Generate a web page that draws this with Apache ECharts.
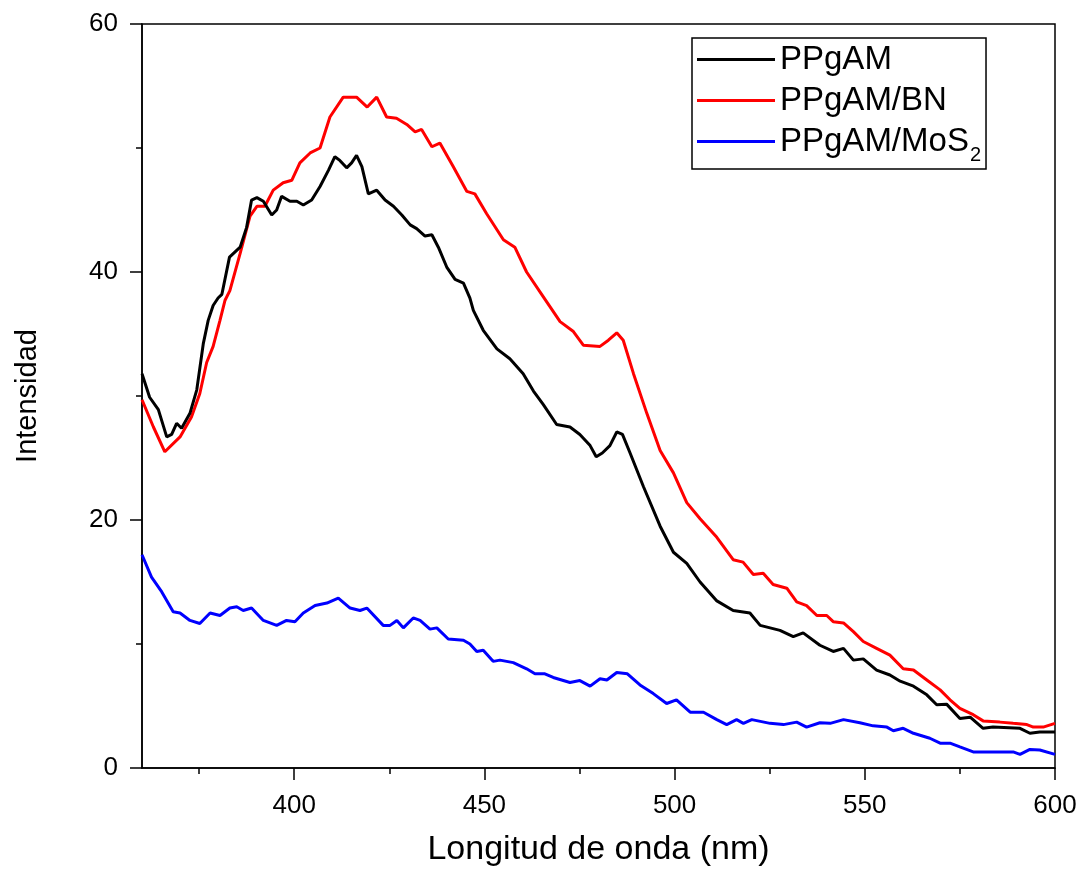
<!DOCTYPE html>
<html>
<head>
<meta charset="utf-8">
<script src="https://cdn.jsdelivr.net/npm/echarts@6/dist/echarts.min.js"></script>
<style>
  html, body { margin: 0; padding: 0; background: #fff; }
  #chart { width: 1085px; height: 873px; }
</style>
</head>
<body>
<div id="chart"></div>
<script>
// wavelength (nm), intensity pairs
const ppgam = [
  [360, 31.8], [362, 29.9], [364.3, 28.9], [366.5, 26.7], [367.8, 26.9], [369.1, 27.8], [370.4, 27.4],
  [372.6, 28.6], [374.4, 30.5], [376.1, 34.2], [377.4, 36.1], [378.7, 37.3], [380, 37.9], [381, 38.2],
  [383, 41.2], [385.8, 42], [387.5, 43.6], [388.8, 45.8], [390.2, 46], [391.9, 45.7], [394.1, 44.6],
  [395.4, 45], [396.7, 46.1], [398.9, 45.7], [400.7, 45.7], [402.4, 45.4], [404.6, 45.8], [406.8, 46.9],
  [409, 48.2], [410.7, 49.3], [412, 49], [413.8, 48.4], [415.1, 48.8], [416.4, 49.4], [417.8, 48.5],
  [419.5, 46.3], [421.7, 46.6], [423.9, 45.8], [426.1, 45.3], [428.3, 44.6], [430.5, 43.8], [432.2, 43.5],
  [434.4, 42.9], [436.2, 43], [437.9, 42], [440.1, 40.4], [442.3, 39.4], [444.5, 39.1], [446.2, 37.9],
  [447.1, 36.9], [449.7, 35.3], [453.3, 33.8], [456.7, 33], [460.2, 31.8], [462.9, 30.4], [465.5, 29.3],
  [469, 27.7], [472.5, 27.5], [475.1, 26.9], [477.8, 26], [479.4, 25.1], [481, 25.4], [483, 26],
  [484.8, 27.1], [486.3, 26.9], [488.3, 25.4], [491.8, 22.7], [496.2, 19.5], [499.7, 17.4], [503.2, 16.5],
  [506.7, 15], [511, 13.5], [515.4, 12.7], [519.8, 12.5], [522.5, 11.5], [527.7, 11.1], [531.2, 10.6],
  [533.8, 10.9], [538.2, 9.9], [541.7, 9.4], [544.4, 9.65], [547, 8.7], [549.6, 8.8], [553.1, 7.9],
  [556.6, 7.5], [559.3, 7.0], [562.8, 6.6], [566.3, 5.9], [568.9, 5.1], [571.5, 5.15], [575, 4.0],
  [577.7, 4.1], [581.1, 3.2], [583.7, 3.3], [590.8, 3.2], [593.4, 2.8], [596, 2.9], [600, 2.9]
];

const ppgamBN = [
  [360, 29.7], [363, 27.5], [366, 25.5], [370, 26.7], [373, 28.3], [375.2, 30.2], [377, 32.7],
  [378.7, 34], [380.5, 36.1], [381.8, 37.7], [383.1, 38.5], [385.8, 41.5], [388.4, 44.5], [390.2, 45.3],
  [392.3, 45.3], [394.5, 46.6], [397.1, 47.2], [399.4, 47.4], [401.5, 48.8], [404.2, 49.6], [406.8, 50],
  [409.4, 52.5], [412.9, 54.1], [416.4, 54.1], [419.2, 53.3], [421.7, 54.1], [424.3, 52.5], [426.9, 52.4],
  [429.6, 51.9], [431.8, 51.3], [433.5, 51.5], [436.2, 50.1], [438.3, 50.4], [441.8, 48.5], [445.4, 46.5],
  [447.5, 46.3], [450.6, 44.7], [455, 42.6], [458, 42], [461.1, 40], [465.5, 38], [469.9, 36],
  [473.4, 35.2], [476, 34.1], [480.4, 34], [482.6, 34.5], [484.8, 35.1], [486.5, 34.5], [489.2, 31.8],
  [492.7, 28.6], [496.2, 25.6], [499.7, 23.8], [503.2, 21.4], [506.7, 20.1], [511.1, 18.6], [515.4, 16.8],
  [518, 16.6], [520.7, 15.6], [523.3, 15.7], [525.9, 14.8], [529.5, 14.5], [532.1, 13.4], [534.7, 13.1],
  [537.4, 12.3], [540, 12.3], [541.7, 11.8], [544.4, 11.7], [547, 11], [549.6, 10.2], [553.1, 9.65],
  [556.6, 9.1], [560.1, 8], [562.8, 7.9], [566.3, 7.1], [569.8, 6.3], [572.4, 5.5], [575, 4.8],
  [578.5, 4.3], [581.1, 3.8], [585.5, 3.7], [589, 3.6], [592.6, 3.5], [594.3, 3.3], [596.9, 3.3], [600, 3.6]
];

const ppgamMoS2 = [
  [360, 17.2], [362.5, 15.4], [365.2, 14.2], [368.2, 12.6], [370, 12.5], [372.6, 11.9], [375.2, 11.65],
  [377.9, 12.5], [380.5, 12.3], [383.1, 12.9], [384.9, 13], [386.6, 12.7], [388.8, 12.9], [391.9, 11.9],
  [395.4, 11.5], [398, 11.9], [400.2, 11.8], [402.4, 12.5], [405.5, 13.1], [408.6, 13.3], [411.6, 13.7],
  [414.7, 12.9], [417.3, 12.7], [419.1, 12.9], [423.4, 11.5], [425.2, 11.5], [427, 11.9], [428.7, 11.3],
  [431.3, 12.1], [433.1, 11.9], [435.7, 11.2], [437.5, 11.3], [440.5, 10.4], [444.5, 10.3], [446.2, 10],
  [448, 9.4], [449.7, 9.5], [452.3, 8.6], [454.1, 8.7], [457.6, 8.5], [461.1, 8], [463.3, 7.6],
  [465.9, 7.6], [468.1, 7.3], [472.5, 6.9], [475.1, 7.05], [477.8, 6.6], [480.4, 7.2], [482.2, 7.1],
  [484.8, 7.7], [487.6, 7.6], [490.9, 6.7], [494.4, 6], [497.9, 5.2], [500.5, 5.5], [504.1, 4.5],
  [507.6, 4.5], [511.1, 3.9], [513.7, 3.5], [516.3, 3.9], [518.1, 3.6], [520.3, 3.9], [525.1, 3.6],
  [528.6, 3.5], [532.1, 3.7], [534.7, 3.3], [538.2, 3.65], [540.9, 3.6], [544.4, 3.9], [548.7, 3.65],
  [552.2, 3.4], [555.8, 3.3], [557.5, 3], [560.1, 3.2], [562.8, 2.8], [567.1, 2.4], [569.8, 2],
  [572.4, 2], [575, 1.7], [578.5, 1.3], [583.8, 1.3], [589, 1.3], [590.8, 1.1], [593.4, 1.5],
  [596, 1.45], [600, 1.1]
];

const seriesNames = ["PPgAM", "PPgAM/BN", "PPgAM/MoS2"];
const seriesColors = ["#000000", "#ff0000", "#0000ff"];
const xMajorTicks = [400, 450, 500, 550, 600];
const xMinorTicks = [375, 425, 475, 525, 575];

const font = "'Liberation Sans', Arial, sans-serif";
const chart = echarts.init(document.getElementById("chart"));

const lineSeries = [ppgam, ppgamBN, ppgamMoS2].map((data, i) => ({
  name: seriesNames[i],
  type: "line",
  xAxisIndex: 0,
  data: data,
  showSymbol: false,
  color: seriesColors[i],
  lineStyle: { width: 3, color: seriesColors[i] },
  z: 3 - i
}));

chart.setOption({
  animation: false,
  backgroundColor: "#fff",
  grid: {
    left: 142, right: 30, top: 24, bottom: 105,
    show: true, borderColor: "#000", borderWidth: 1.5
  },
  legend: {
    orient: "vertical",
    left: 692, top: 38,
    icon: "rect",
    itemWidth: 78, itemHeight: 3,
    itemGap: 8,
    padding: [5, 5, 4, 5],
    borderColor: "#000", borderWidth: 1.5,
    backgroundColor: "#fff",
    selectedMode: false,
    data: seriesNames,
    formatter: (name) => name === "PPgAM/MoS2" ? "{n|PPgAM/MoS}{s|2}" : "{n|" + name + "}",
    textStyle: {
      color: "#000",
      fontFamily: font,
      rich: {
        n: { fontSize: 33, lineHeight: 33, fontFamily: font, color: "#000", verticalAlign: "top" },
        s: { fontSize: 20, lineHeight: 20, fontFamily: font, color: "#000", verticalAlign: "top", padding: [20, 0, 0, 1] }
      }
    }
  },
  xAxis: [
    {
      type: "value", min: 360, max: 600,
      name: "Longitud de onda (nm)",
      nameLocation: "middle", nameGap: 65,
      nameTextStyle: { fontSize: 34, color: "#000", fontFamily: font },
      axisLine: { lineStyle: { color: "#000", width: 1.5 } },
      axisTick: { customValues: xMajorTicks, length: 12, lineStyle: { color: "#000", width: 1.5 } },
      axisLabel: { customValues: xMajorTicks, fontSize: 26, color: "#000", fontFamily: font, margin: 25 },
      splitLine: { show: false }
    },
    {
      type: "value", min: 360, max: 600, position: "bottom",
      axisLine: { show: false },
      axisTick: { customValues: xMinorTicks, length: 6, lineStyle: { color: "#000", width: 1.5 } },
      axisLabel: { show: false },
      splitLine: { show: false }
    }
  ],
  yAxis: {
    type: "value", min: 0, max: 60, interval: 20,
    name: "Intensidad",
    nameLocation: "middle", nameGap: 100,
    nameTextStyle: { fontSize: 29, color: "#000", fontFamily: font },
    axisLine: { show: true, lineStyle: { color: "#000", width: 1.5 } },
    axisTick: { show: true, length: 12, lineStyle: { color: "#000", width: 1.5 } },
    minorTick: { show: true, splitNumber: 2, length: 6, lineStyle: { color: "#000", width: 1.5 } },
    axisLabel: { fontSize: 26, color: "#000", fontFamily: font, margin: 24 },
    splitLine: { show: false }
  },
  series: lineSeries
});
</script>
</body>
</html>
